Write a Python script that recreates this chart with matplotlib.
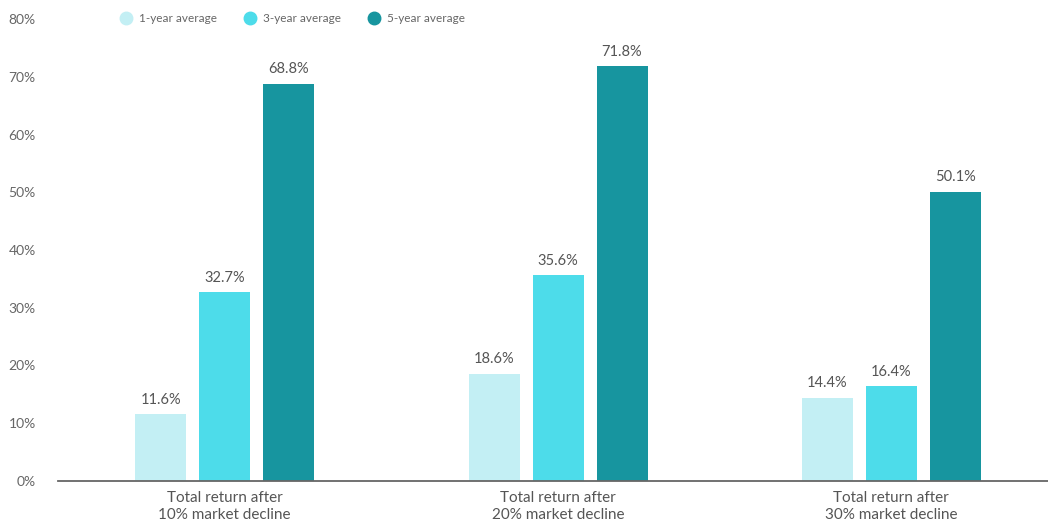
import matplotlib
matplotlib.use("Agg")
import matplotlib.pyplot as plt
from matplotlib.lines import Line2D
import numpy as np

plt.rcParams['font.family'] = ['Lato', 'DejaVu Sans']

categories = ["Total return after\n10% market decline",
              "Total return after\n20% market decline",
              "Total return after\n30% market decline"]
series_names = ["1-year average", "3-year average", "5-year average"]
one_year = [11.6, 18.6, 14.4]
three_year = [32.7, 35.6, 16.4]
five_year = [68.8, 71.8, 50.1]
yticks = [0, 10, 20, 30, 40, 50, 60, 70, 80]
colors = ["#C3EFF4", "#4DDCEA", "#17959F"]

fig = plt.figure(figsize=(10.48, 5.29), dpi=100)
ax = fig.add_axes([58/1048, 48/529, 1 - 58/1048, (481-19)/529])

x = np.arange(len(categories))
width = 0.153
step = 0.192
all_series = [one_year, three_year, five_year]
for i, (vals, c) in enumerate(zip(all_series, colors)):
    pos = x + (i - 1) * step
    ax.bar(pos, vals, width=width, color=c, zorder=2)
    for p, v in zip(pos, vals):
        ax.text(p, v + 1.3, f"{v:.1f}%", ha='center', va='bottom',
                fontsize=10.5, color='#555555')

ax.set_xlim(-0.5, 2.47)
ax.set_ylim(0, 80)
ax.set_yticks(yticks)
ax.set_yticklabels([f"{t}%" for t in yticks], fontsize=10, color='#666666')
ax.set_xticks(x)
ax.set_xticklabels(categories, fontsize=11, color='#555555', linespacing=1.3)
ax.tick_params(axis='both', length=0)
ax.tick_params(axis='y', pad=16)
ax.tick_params(axis='x', pad=7)
for s in ['top', 'right', 'left']:
    ax.spines[s].set_visible(False)
ax.spines['bottom'].set_color('#666666')
ax.spines['bottom'].set_linewidth(1.3)

handles = [Line2D([0], [0], marker='o', linestyle='none', markersize=9,
                  markerfacecolor=c, markeredgecolor=c) for c in colors]
fig.legend(handles, series_names, loc='center left', bbox_to_anchor=(108/1048, 1 - 19/529),
           ncol=3, frameon=False, fontsize=8.5, labelcolor='#666666',
           handletextpad=0.5, columnspacing=2.2, handlelength=1.2)

fig.savefig("out.png", dpi=100)
